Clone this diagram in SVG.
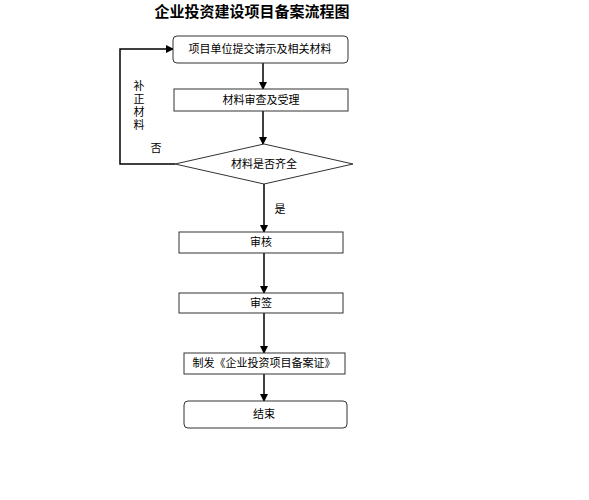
<svg xmlns="http://www.w3.org/2000/svg" width="589" height="500" viewBox="0 0 589 500">
<defs>
<marker id="ah" markerWidth="8" markerHeight="8" refX="7" refY="4" orient="auto" markerUnits="userSpaceOnUse">
<path d="M0,0 L8,4 L0,8 Z" fill="#000"/>
</marker>
<style>
.box{fill:#fff;stroke:#333;stroke-width:1}
.t{font-family:"Noto Sans CJK SC","Noto Sans",sans-serif;font-size:11px;fill:#000;text-anchor:middle}
.line{stroke:#000;stroke-width:1.5;fill:none}
</style>
</defs>
<rect width="589" height="500" fill="#fff"/>
<text x="252" y="17" style="font-family:'Noto Sans CJK SC',sans-serif;font-size:15px;font-weight:bold;text-anchor:middle">企业投资建设项目备案流程图</text>
<g id="connectors">
<line class="line" x1="263" y1="63" x2="263" y2="89" marker-end="url(#ah)"/>
<line class="line" x1="263" y1="111" x2="263" y2="144" marker-end="url(#ah)"/>
<polyline class="line" points="175,164 120,164 120,49 173,49" marker-end="url(#ah)"/>
<line class="line" x1="264" y1="184" x2="264" y2="232" marker-end="url(#ah)"/>
<line class="line" x1="264" y1="253" x2="264" y2="293" marker-end="url(#ah)"/>
<line class="line" x1="264" y1="313" x2="264" y2="353" marker-end="url(#ah)"/>
<line class="line" x1="264" y1="374" x2="264" y2="401" marker-end="url(#ah)"/>
<text x="139" y="80" style="font-family:'Noto Sans CJK SC',sans-serif;font-size:11px;writing-mode:vertical-rl;letter-spacing:2px">补正材料</text>
<text class="t" x="156" y="152">否</text>
<text class="t" x="280" y="213">是</text>
</g>
<g id="n1">
<rect class="box" x="173" y="36" width="175" height="27" rx="4"/>
<text class="t" x="260" y="53">项目单位提交请示及相关材料</text>
</g>
<g id="n2">
<rect class="box" x="174" y="89" width="174" height="22"/>
<text class="t" x="261" y="104">材料审查及受理</text>
</g>
<g id="n3">
<polygon class="box" points="264,144 353,164 264,184 175,164"/>
<text class="t" x="264" y="168">材料是否齐全</text>
</g>
<g id="n4">
<rect class="box" x="179" y="232" width="164" height="21"/>
<text class="t" x="261" y="246">审核</text>
</g>
<g id="n5">
<rect class="box" x="179" y="293" width="164" height="20"/>
<text class="t" x="261" y="307">审签</text>
</g>
<g id="n6">
<rect class="box" x="184" y="353" width="161" height="21"/>
<text class="t" x="264" y="367">制发《企业投资项目备案证》</text>
</g>
<g id="n7">
<rect class="box" x="184" y="401" width="163" height="27" rx="4"/>
<text class="t" x="264" y="418">结束</text>
</g>
</svg>
